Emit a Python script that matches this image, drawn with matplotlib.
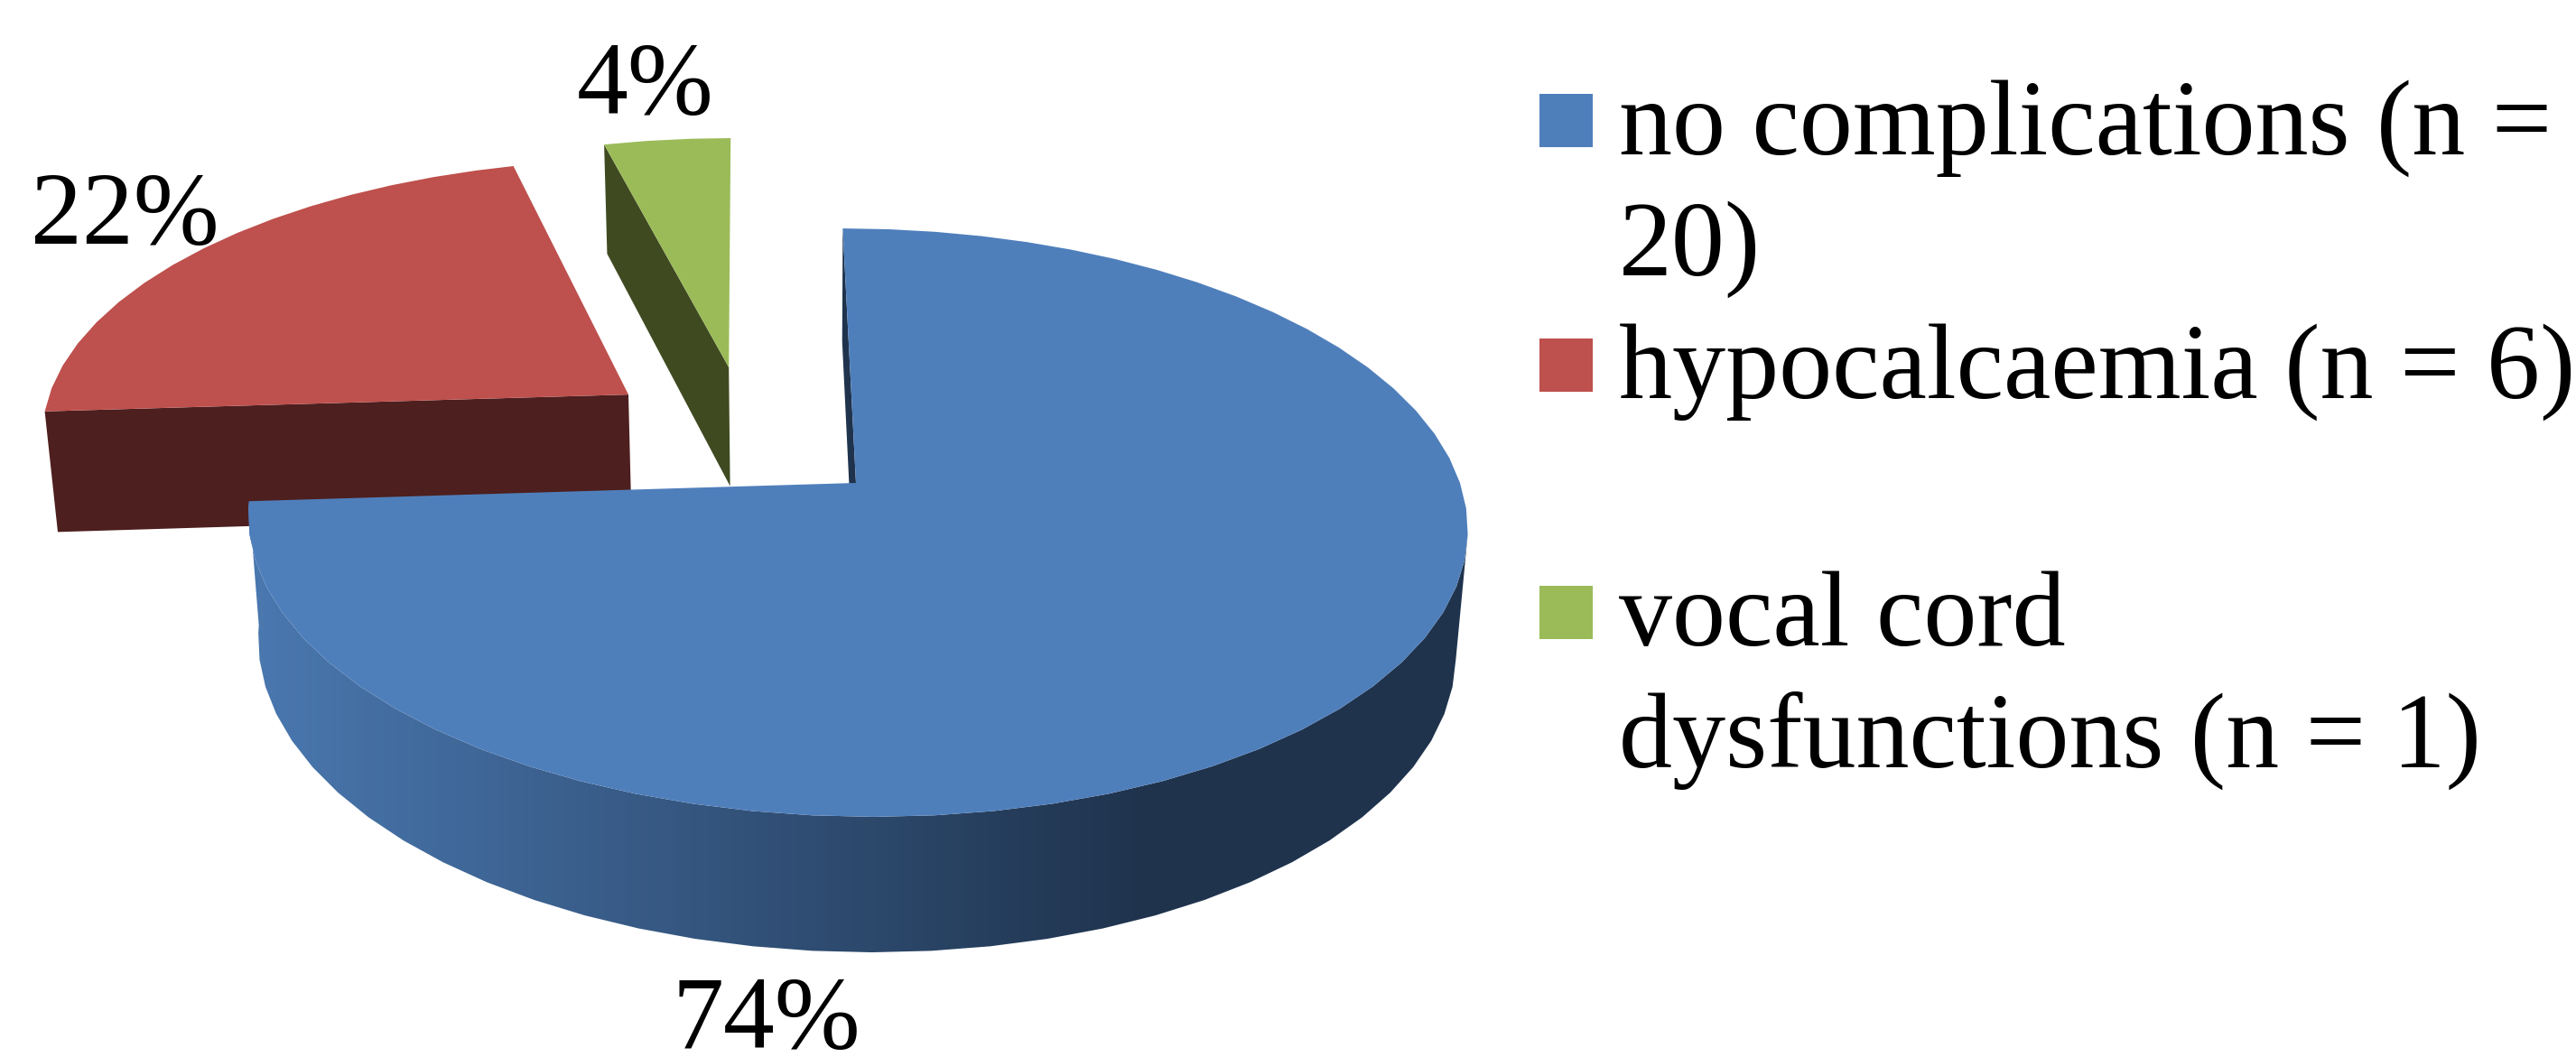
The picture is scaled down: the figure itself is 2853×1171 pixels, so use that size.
import numpy as np
import matplotlib
matplotlib.use('Agg')
import matplotlib.pyplot as plt
from matplotlib.colors import to_rgb
from matplotlib.patches import Polygon, Rectangle

# data
percents = [74, 22, 4]
legendLines = [["no complications (n =", "20)"],
               ["hypocalcaemia (n = 6)"],
               ["vocal cord", "dysfunctions (n = 1)"]]

# looks
topColors = ['#4f7fbb', '#be504d', '#9bbb59']
sideColors = ['#1f334d', '#4d1f1e', '#3f4a21']
wallLeft = '#4a78b0'
wallRight = '#1f334d'
explode = [(0, 0), (-0.385, -0.319), (-0.212, -0.423)]
labelPos = [(745, 1161), (34, 270), (639, 126)]
swatchY = [104, 375, 649]
lineY = [[171, 305], [441], [715, 850]]
labelSize = 82
legendSize = 85
facetDeg = 5

# perspective of the pie, unit radius, z goes from top face (0) to bottom (1)
cx, cy = 948, 535
def project(x, y, z):
    w = 1 - 0.135 * y + 0.018 * z
    return cx + (669 * x + 16.6 * y - 1.0 * z) / w, cy + (320 * y + 139.2 * z) / w

def rim(a0, a1, offset, z):
    # angles clockwise from twelve o'clock, in degrees
    angles = np.append(np.arange(a0, a1, facetDeg), a1)
    x = np.sin(np.radians(angles)) + offset[0]
    y = -np.cos(np.radians(angles)) + offset[1]
    X, Y = project(x, y, z)
    return np.column_stack([X, Y]), y

def apex(offset, z):
    X, Y = project(offset[0], offset[1], z)
    return [X, Y]

plt.rcParams['font.family'] = ['Liberation Serif', 'DejaVu Serif']
fig = plt.figure(figsize=(28.53, 11.71), dpi=100)
ax = fig.add_axes([0, 0, 1, 1])
ax.axis('off')

edges = np.cumsum([0] + percents) * 3.6

# green slice
a0, a1 = edges[2], edges[3]
off = explode[2]
side = [apex(off, 0), rim(a0, a0, off, 0)[0][0], rim(a0, a0, off, 1)[0][0], apex(off, 1)]
ax.add_patch(Polygon(side, closed=True, fc=sideColors[2], ec='none', zorder=1))
pts, _ = rim(a0, a1, off, 0)
ax.add_patch(Polygon(np.vstack([apex(off, 0), pts]), closed=True, fc=topColors[2], ec='none', zorder=2))

# red slice
a0, a1 = edges[1], edges[2]
off = explode[1]
side = [apex(off, 0), rim(a0, a0, off, 0)[0][0], rim(a0, a0, off, 1)[0][0], apex(off, 1)]
ax.add_patch(Polygon(side, closed=True, fc=sideColors[1], ec='none', zorder=3))
pts, _ = rim(a0, a1, off, 0)
ax.add_patch(Polygon(np.vstack([apex(off, 0), pts]), closed=True, fc=topColors[1], ec='none', zorder=4))

# blue slice: inner face, then outer wall with the gradient, then top
a0, a1 = edges[0], edges[1]
off = explode[0]
side = [apex(off, 0), rim(a0, a0, off, 0)[0][0], rim(a0, a0, off, 1)[0][0], apex(off, 1)]
ax.add_patch(Polygon(side, closed=True, fc=sideColors[0], ec='none', zorder=5))

upper, yy = rim(a0, a1, off, 0)
lower, _ = rim(a0, a1, off, 1)
# wall starts at the rightmost point of the rim, so its right side is a straight edge
first = np.argmax(upper[:, 0])
wall = Polygon(np.vstack([upper[first:], lower[first:][::-1]]), closed=True, fc='none', ec='none',
               transform=ax.transData)
ax.add_patch(wall)
xs = np.linspace(0, 1, 256)
shade = np.clip((xs * 1700 - 276) / (1270 - 276), 0, 1)[:, None]
grad = (1 - shade) * np.array(to_rgb(wallLeft)) + shade * np.array(to_rgb(wallRight))
im = ax.imshow(grad[None, :, :], extent=(0, 1700, 1171, 0), aspect='auto', zorder=6)
im.set_clip_path(wall)

ax.add_patch(Polygon(np.vstack([apex(off, 0), upper]), closed=True, fc=topColors[0], ec='none', zorder=7))

for p, pos in zip(percents, labelPos):
    ax.text(pos[0], pos[1], "%d%%" % p, fontsize=labelSize, color='black', va='baseline', ha='left', zorder=8)

# legend
for i in range(len(legendLines)):
    ax.add_patch(Rectangle((1705, swatchY[i]), 59, 59, fc=topColors[i], ec='none'))
    for line, y in zip(legendLines[i], lineY[i]):
        ax.text(1793, y, line, fontsize=legendSize, color='black', va='baseline', ha='left')

ax.set_xlim(0, 2853)
ax.set_ylim(1171, 0)
fig.savefig('out.png', dpi=100, facecolor='white')
